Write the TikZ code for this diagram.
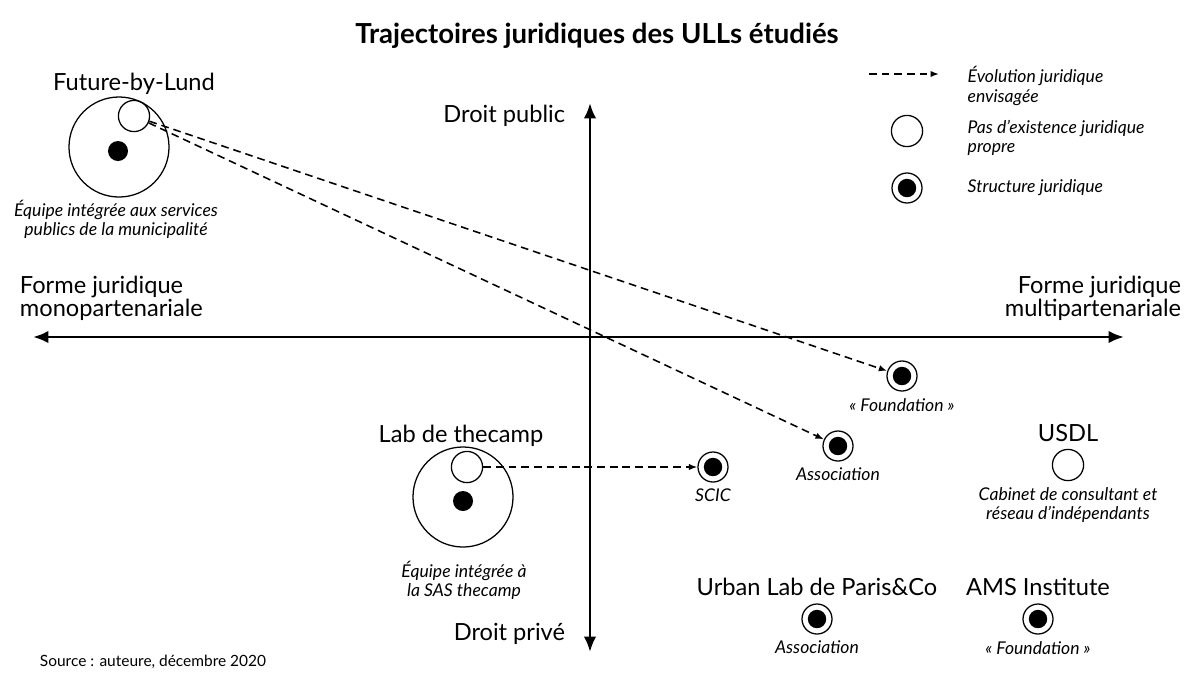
\documentclass[tikz,border=0pt]{standalone}
\usepackage{fontspec}
\setmainfont{Lato}
\usetikzlibrary{arrows.meta,positioning}

\begin{document}
\begin{tikzpicture}[x=0.025cm,y=-0.025cm,>=Latex,
  every node/.style={align=center,font=\fontsize{16.8}{16.5}\selectfont},
  statut/.style={font=\itshape\fontsize{12.5}{13.6}\selectfont,inner sep=1pt},
  axe/.style={line width=2pt,{Latex[length=11pt,width=9pt]}-{Latex[length=11pt,width=9pt]}},
  evol/.style={-{Latex[length=6pt,width=4.5pt]},line width=1.1pt,dash pattern=on 5.5pt off 3.5pt},
  pasjur/.style={circle,draw,line width=0.9pt,minimum size=0.78cm,inner sep=0pt},
  structjur/.style={circle,draw,line width=0.9pt,minimum size=0.75cm,inner sep=0pt,
    path picture={\fill (path picture bounding box.center) circle (0.23cm);}},
  equipe/.style={circle,draw,line width=0.9pt,minimum size=2.5cm,inner sep=0pt},
  point/.style={circle,fill,minimum size=0.5cm,inner sep=0pt}]
\useasboundingbox (0,0) rectangle (1195,673);
% titre
\node[font=\bfseries\fontsize{19.6}{22}\selectfont] (titre) at (597,36) {Trajectoires juridiques des ULLs étudiés};
% axes
\coordinate (haut) at (590,103);
\coordinate (bas) at (590,652);
\coordinate (gauche) at (33,337);
\coordinate (droite) at (1124,337);
\draw[axe] (haut) -- (bas);
\draw[axe] (gauche) -- (droite);
\node[anchor=east] (dpub) at (570,116) {Droit public};
\node[anchor=east] (dpriv) at (570,634) {Droit privé};
\node[anchor=west,align=left] (mono) at (15,298) {Forme juridique\\monopartenariale};
\node[anchor=east,align=right] (multi) at (1186,298) {Forme juridique\\multipartenariale};
% Future-by-Lund
\node[equipe] (fbl) at (119,147) {};
\node[pasjur] (fblpas) at (134,116) {};
\node[point] (fbldot) at (118,151) {};
\node (fblnom) at (134,84) {Future-by-Lund};
\node[statut] (fblcap) at (116,219) {Équipe intégrée aux services\\publics de la municipalité};
% Lab de thecamp
\node[equipe] (ltc) at (463,497) {};
\node[pasjur] (ltcpas) at (467,467) {};
\node[point] (ltcdot) at (463,501) {};
\node (ltcnom) at (461,436) {Lab de thecamp};
\node[statut] (ltccap) at (464,580) {Équipe intégrée à\\la SAS thecamp};
% cibles
\node[structjur] (scic) at (713,467) {};
\node[statut,below=1.2mm of scic] (sciccap) {SCIC};
\node[structjur] (fnd) at (902,376) {};
\node[statut,below=1.2mm of fnd] (fndcap) {« Foundation »};
\node[structjur] (asso) at (838,446) {};
\node[statut,below=1.2mm of asso] (assocap) {Association};
% USDL
\node[pasjur] (usdl) at (1068,465) {};
\node[above=0.6mm of usdl] (usdlnom) {USDL};
\node[statut,below=1.2mm of usdl] (usdlcap) {Cabinet de consultant et\\réseau d’indépendants};
% Urban Lab, AMS
\node[structjur] (ulp) at (817,619) {};
\node[above=0.6mm of ulp] (ulpnom) {Urban Lab de Paris\&Co};
\node[statut,below=1.2mm of ulp] (ulpcap) {Association};
\node[structjur] (ams) at (1038,619) {};
\node[above=0.6mm of ams] (amsnom) {AMS Institute};
\node[statut,below=1.2mm of ams] (amscap) {« Foundation »};
% evolutions
\draw[evol] (fblpas) -- (fnd);
\draw[evol] (fblpas) -- (asso);
\draw[evol] (ltcpas) -- (scic);
% legende
\coordinate (legdeb) at (869,74);
\coordinate (legfin) at (939,74);
\draw[evol] (legdeb) -- (legfin);
\node[statut,anchor=west,align=left] (legevol) at (966,86) {Évolution juridique\\envisagée};
\node[pasjur] (legpas) at (907,131) {};
\node[statut,anchor=west,align=left] (legpastxt) at (966,138) {Pas d’existence juridique\\propre};
\node[structjur] (legstruct) at (907,188) {};
\node[statut,anchor=west,align=left] (legstructtxt) at (966,188) {Structure juridique};
% source
\node[anchor=west,font=\fontsize{11}{13}\selectfont] (source) at (35,662) {Source : auteure, décembre 2020};
\end{tikzpicture}
\end{document}
